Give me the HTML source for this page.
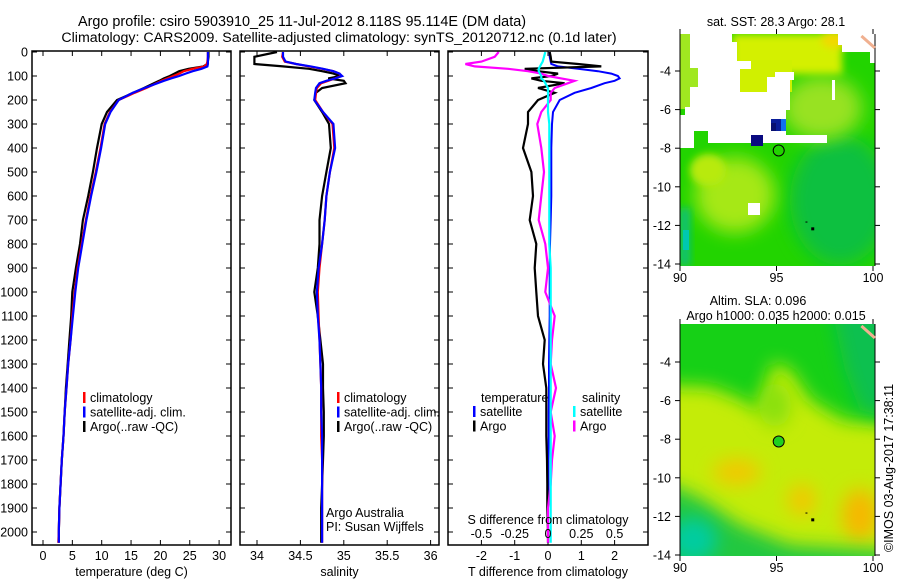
<!DOCTYPE html>
<html><head><meta charset="utf-8"><style>
html,body{margin:0;padding:0;background:#fff;}
svg{display:block;font-family:"Liberation Sans",sans-serif;}
</style></head><body>
<svg id="fig" width="900" height="580" viewBox="0 0 900 580" xmlns="http://www.w3.org/2000/svg">
<defs>
<filter id="blur8" x="-50%" y="-50%" width="200%" height="200%"><feGaussianBlur stdDeviation="9"/></filter>
<filter id="blur4" x="-50%" y="-50%" width="200%" height="200%"><feGaussianBlur stdDeviation="4"/></filter>
<clipPath id="clipTop"><rect x="680" y="34" width="195" height="232"/></clipPath>
<clipPath id="clipBot"><rect x="680" y="324" width="195" height="232"/></clipPath>
</defs>
<text x="302" y="26" font-size="14.4" text-anchor="middle">Argo profile: csiro 5903910_25 11-Jul-2012 8.118S 95.114E (DM data)</text>
<text x="339" y="42" font-size="14.2" text-anchor="middle">Climatology: CARS2009. Satellite-adjusted climatology: synTS_20120712.nc (0.1d later)</text>
<g id="plots"></g>
<g id="maps"></g>
</svg>
<script>
// ---- data ----
const depths = [0,20,40,50,60,70,80,90,100,110,120,130,150,170,200,250,300,400,500,600,700,800,900,1000,1100,1200,1300,1400,1500,1600,1700,1800,1900,2000,2045];
const tempClim = [28.1,28.1,28.0,27.9,27.5,25.5,24.0,23.2,22.2,21.2,20.2,19.3,17.6,15.6,12.9,11.4,10.5,9.8,9.0,8.1,7.3,6.6,5.9,5.4,5.0,4.7,4.3,4.0,3.7,3.5,3.2,3.0,2.8,2.7,2.6];
const tempSat  = [28.1,28.1,28.1,28.1,28.0,27.0,25.5,24.3,23.2,21.8,20.6,19.5,17.3,15.3,12.9,11.5,10.6,9.9,9.1,8.2,7.4,6.7,6.0,5.5,5.1,4.7,4.3,4.0,3.7,3.5,3.2,3.0,2.8,2.7,2.7];
const tempArgo = [28.2,28.2,28.1,28.0,27.3,24.8,23.2,22.4,21.6,20.6,19.8,18.9,17.2,15.4,12.6,10.9,10.0,9.2,8.5,7.7,6.8,6.3,5.6,5.0,4.8,4.5,4.2,3.9,3.7,3.5,3.2,3.0,2.8,2.7,2.7];
const salClim = [34.30,34.29,34.32,34.45,34.60,34.75,34.88,34.95,34.97,34.90,34.82,34.74,34.69,34.68,34.67,34.76,34.87,34.89,34.84,34.80,34.78,34.75,34.72,34.70,34.71,34.72,34.73,34.74,34.74,34.74,34.75,34.75,34.75,34.75,34.75];
const salSat  = [34.30,34.30,34.33,34.45,34.62,34.76,34.88,34.95,34.98,34.90,34.80,34.72,34.68,34.67,34.66,34.76,34.88,34.90,34.84,34.80,34.78,34.75,34.71,34.69,34.70,34.72,34.73,34.74,34.74,34.75,34.75,34.75,34.75,34.75,34.75];
const salArgo = [34.23,33.97,33.97,33.97,34.30,34.60,34.75,34.88,34.96,34.82,35.00,35.02,34.75,34.68,34.66,34.75,34.83,34.85,34.80,34.75,34.72,34.72,34.70,34.66,34.70,34.73,34.76,34.76,34.77,34.77,34.76,34.75,34.74,34.74,34.74];
const dTsat  = [0.05,0.05,0.08,0.1,0.3,0.9,1.5,1.9,2.1,2.15,2.0,1.7,1.3,0.8,0.35,0.15,0.12,0.1,0.1,0.1,0.08,0.06,0.05,0.05,0.05,0.04,0.03,0.03,0.02,0.02,0.01,0.01,0.0,0.0,0.0];
const dTargo = [0.05,0.08,0.1,0.9,1.6,-0.7,-0.3,0.3,0.1,-0.5,-0.2,0.5,-0.3,0.2,-0.3,-0.6,-0.6,-0.75,-0.5,-0.45,-0.55,-0.35,-0.4,-0.35,-0.3,-0.1,-0.15,-0.05,-0.05,-0.05,-0.03,-0.02,-0.02,0.0,0.0];
const dSsat  = [-0.02,-0.03,-0.04,-0.05,-0.06,-0.07,-0.07,-0.06,-0.05,-0.05,-0.03,-0.02,0.0,0.0,0.0,0.0,0.01,0.01,0.01,0.01,0.01,0.01,0.02,0.02,0.02,0.02,0.02,0.02,0.02,0.02,0.02,0.02,0.02,0.02,0.02];
const dSargo = [-0.37,-0.4,-0.5,-0.62,-0.55,-0.3,-0.15,-0.05,0.0,0.1,0.2,0.15,0.05,0.02,0.02,-0.05,-0.08,-0.05,-0.03,-0.05,-0.07,-0.02,0.0,-0.02,0.05,0.03,0.02,0.06,0.02,0.05,0.03,0.02,0.0,0.0,0.0];
const depthTicks = [0,100,200,300,400,500,600,700,800,900,1000,1100,1200,1300,1400,1500,1600,1700,1800,1900,2000];
const tempTicks = [0,5,10,15,20,25,30];
const salTicks = [34,34.5,35,35.5,36];
const salTickLabels = ["34","34.5","35","35.5","36"];
const dTTicks = [-2,-1,0,1,2];
const dSTicks = [-0.5,-0.25,0,0.25,0.5];
const dSTickLabels = ["-0.5","-0.25","0","0.25","0.5"];
const latTicks = [-4,-6,-8,-10,-12,-14];
const lonTicks = [90,95,100];

const NS='http://www.w3.org/2000/svg';
function mk(tag, attrs, parent){const e=document.createElementNS(NS,tag);for(const k in attrs)e.setAttribute(k,attrs[k]);parent.appendChild(e);return e;}
const plots=document.getElementById('plots');
const yD = d => 52 + d*0.24;
const PY0=51, PY1=545;

function panel(name,x0,x1,xf,ticks,labels,xlabel,yLabels){
  const g=mk('g',{},plots);
  
  
  depthTicks.forEach(d=>{
    mk('line',{x1:x0,x2:x0+5,y1:yD(d),y2:yD(d),stroke:'#000'},g);
    mk('line',{x1:x1-5,x2:x1,y1:yD(d),y2:yD(d),stroke:'#000'},g);
    if(yLabels){const t=mk('text',{x:28,y:yD(d)+4.5,'font-size':12.5,'text-anchor':'end'},g);t.textContent=d;
      }
  });
  ticks.forEach((v,i)=>{
    const x=xf(v);
    mk('line',{x1:x,x2:x,y1:PY1,y2:PY1-5,stroke:'#000'},g);
    mk('line',{x1:x,x2:x,y1:PY0,y2:PY0+5,stroke:'#000'},g);
    const t=mk('text',{x:x,y:560,'font-size':12.5,'text-anchor':'middle'},g);t.textContent=labels?labels[i]:v;
    
  });
  const t=mk('text',{x:(x0+x1)/2,y:576,'font-size':12.5,'text-anchor':'middle'},g);t.textContent=xlabel;
  
  return g;
}
function series(g,name,vals,xf,color,w){
  const pts=vals.map((v,i)=>xf(v).toFixed(1)+','+yD(depths[i]).toFixed(1)).join(' ');
  const p=mk('polyline',{points:pts,fill:'none',stroke:color,'stroke-width':w||2.2,'stroke-linejoin':'miter'},g);
  
  
}
function box(g,x0,x1){const r=mk('rect',{x:x0,y:PY0,width:x1-x0,height:PY1-PY0,fill:'none',stroke:'#000','stroke-width':1.5},g);
  }
function legend(g,x,y,items){
  items.forEach((it,i)=>{
    mk('rect',{x:x,y:y+i*14.5-10,width:2.5,height:11,fill:it[1]},g);
    const t=mk('text',{x:x+7,y:y+i*14.5,'font-size':12.5},g);t.textContent=it[0];
    
  });
}

const xT = v => 43 + v*5.87;
let g1=panel('temperature-panel',32,231,xT,tempTicks,null,'temperature (deg C)',true);
series(g1,'temp-argo-line',tempArgo,xT,'#000');
series(g1,'temp-climatology-line',tempClim,xT,'#f00');
series(g1,'temp-satellite-line',tempSat,xT,'#00f');
box(g1,32,231);
legend(g1,83,402,[['climatology','#f00'],['satellite-adj. clim.','#00f'],['Argo(..raw -QC)','#000']]);

const xS = v => 257 + (v-34)*86.8;
let g2=panel('salinity-panel',240,439,xS,salTicks,salTickLabels,'salinity',false);
series(g2,'sal-argo-line',salArgo,xS,'#000');
series(g2,'sal-climatology-line',salClim,xS,'#f00');
series(g2,'sal-satellite-line',salSat,xS,'#00f');
box(g2,240,439);
legend(g2,337,402,[['climatology','#f00'],['satellite-adj. clim.','#00f'],['Argo(..raw -QC)','#000']]);
[['Argo Australia',517],['PI: Susan Wijffels',531]].forEach(a=>{const t=mk('text',{x:326,y:a[1],'font-size':12.5},g2);t.textContent=a[0];
  });

const xdT = v => 548 + v*33.3;
const xdS = v => 548 + v*133.2;
let g3=panel('difference-panel',448,648,xdT,dTTicks,null,'T difference from climatology',false);
series(g3,'dT-satellite-line',dTsat,xdT,'#00f',2);
series(g3,'dT-argo-line',dTargo,xdT,'#000',2.2);
series(g3,'dS-argo-line',dSargo,xdS,'#f0f',2.2);
series(g3,'dS-satellite-line',dSsat,xdS,'#0ff',2.2);
box(g3,448,648);
dSTicks.forEach((v,i)=>{const t=mk('text',{x:xdS(v),y:538,'font-size':12.5,'text-anchor':'middle'},g3);t.textContent=dSTickLabels[i];
  });
{const t=mk('text',{x:548,y:524,'font-size':12.5,'text-anchor':'middle'},g3);t.textContent='S difference from climatology';
 }
{const t=mk('text',{x:481,y:402,'font-size':12.5},g3);t.textContent='temperature';}
{const t=mk('text',{x:582,y:402,'font-size':12.5},g3);t.textContent='salinity';}
legend(g3,473,416,[['satellite','#00f'],['Argo','#000']]);
legend(g3,573,416,[['satellite','#0ff'],['Argo','#f0f']]);

// ---- maps ----
const maps=document.getElementById('maps');
const mx = lon => 680 + (lon-90)*19.3;
const pts = a => a.map(p=>p[0]+','+p[1]).join(' ');
function mapAxes(g,top,y4){
  const my = lat => y4 - (lat+4)*19.3;
  const bot=top+232;
  latTicks.forEach(l=>{const y=my(l);
    mk('line',{x1:675,x2:680,y1:y,y2:y,stroke:'#000'},g);mk('line',{x1:875,x2:880,y1:y,y2:y,stroke:'#000'},g);
    const t=mk('text',{x:671,y:y+4.5,'font-size':12.5,'text-anchor':'end'},g);t.textContent=l;
    });
  lonTicks.forEach(l=>{const x=mx(l);
    mk('line',{x1:x,x2:x,y1:bot,y2:bot+5,stroke:'#000'},g);mk('line',{x1:x,x2:x,y1:top-5,y2:top,stroke:'#000'},g);
    const t=mk('text',{x:x,y:bot+16,'font-size':12.5,'text-anchor':'middle'},g);t.textContent=l;
    });
  mk('line',{x1:680,x2:680,y1:top,y2:bot,stroke:'#000'},g);mk('line',{x1:875,x2:875,y1:top,y2:bot,stroke:'#000'},g);
  mk('circle',{cx:mx(95.114),cy:my(-8.118),r:5.5,fill:'none',stroke:'#000','stroke-width':1},g);
  mk('rect',{x:mx(96.8),y:my(-12.1),width:3,height:3,fill:'#000'},g);
  mk('rect',{x:mx(96.5),y:my(-11.8),width:2,height:1,fill:'#000'},g);
  mk('path',{d:`M${mx(99.4)} ${top+2} L${mx(100.1)} ${top+14}`,stroke:'#f0b090','stroke-width':3,fill:'none'},g);
  return my;
}
// top map: SST
{const g=mk('g',{'clip-path':'url(#clipTop)'},maps);
 
 mk('rect',{x:680,y:34,width:195,height:232,fill:'#22d400'},g);
 mk('ellipse',{cx:840,cy:200,rx:50,ry:65,fill:'#10c040',filter:'url(#blur8)'},g);
 mk('ellipse',{cx:735,cy:195,rx:40,ry:38,fill:'#a6e818',filter:'url(#blur8)'},g);
 mk('ellipse',{cx:708,cy:170,rx:18,ry:16,fill:'#b8ea10',filter:'url(#blur4)'},g);
 mk('ellipse',{cx:822,cy:108,rx:40,ry:32,fill:'#98e220',filter:'url(#blur8)'},g);
 mk('rect',{x:732,y:34,width:110,height:40,fill:'#d4f000',filter:'url(#blur4)'},g);
 mk('rect',{x:740,y:60,width:52,height:32,fill:'#d0f000'},g);
 mk('ellipse',{cx:835,cy:40,rx:14,ry:8,fill:'#f2d800',filter:'url(#blur4)'},g);
 mk('rect',{x:680,y:34,width:18,height:75,fill:'#a0e820'},g);
 mk('rect',{x:680,y:208,width:10,height:58,fill:'#10c078',filter:'url(#blur4)'},g);
 mk('rect',{x:683,y:230,width:6,height:20,fill:'#00c8b0'},g);
 mk('polygon',{fill:'#fff',points:pts([[690,34],[732,34],[732,42],[737,42],[737,61],[751,61],[751,69],[740,69],[740,92],[767,92],[767,77],[775,77],[775,72],[794,72],[794,80],[790,80],[790,110],[786,110],[786,135],[827,135],[827,143],[708,143],[708,131],[694,131],[694,148],[680,148],[680,115],[685,115],[685,107],[690,107],[690,87],[698,87],[698,68],[690,68]])},g);
 mk('polygon',{fill:'#fff',points:pts([[838,34],[876,34],[876,63],[870,63],[870,52],[842,52],[842,45],[838,45]])},g);
 mk('rect',{x:832,y:80,width:3,height:20,fill:'#fff'},g);
 mk('rect',{x:748,y:203,width:12,height:12,fill:'#fff'},g);
 mk('rect',{x:771,y:119,width:10,height:12,fill:'#0a1e9a'},g);
 mk('rect',{x:781,y:119,width:5,height:12,fill:'#1070f0'},g);
 mk('rect',{x:771,y:123,width:5,height:8,fill:'#081070'},g);
 mk('rect',{x:751,y:135,width:12,height:11,fill:'#0a0a80'},g);
 const ga=mk('g',{},maps);
 mapAxes(ga,34,71);
 const t=mk('text',{x:776,y:26,'font-size':12.5,'text-anchor':'middle'},maps);t.textContent='sat. SST: 28.3 Argo: 28.1';
 }
// bottom map: SLA
{const g=mk('g',{'clip-path':'url(#clipBot)'},maps);
 
 const my = lat => 362 - (lat+4)*19.3;
 mk('rect',{x:680,y:324,width:195,height:232,fill:'#c4ec08'},g);
 mk('polygon',{fill:'#18d018',filter:'url(#blur8)',points:pts([[660,300],[900,300],[900,425],[843,420],[810,400],[790,370],[773,362],[760,412],[743,400],[710,387],[660,385]])},g);
 mk('polygon',{fill:'#10c050',filter:'url(#blur8)',points:pts([[830,300],[900,300],[900,420],[860,410],[845,370]])},g);
 mk('ellipse',{cx:775,cy:405,rx:16,ry:22,fill:'#88e010',filter:'url(#blur8)'},g);
 mk('ellipse',{cx:737,cy:472,rx:24,ry:13,fill:'#f2c800',filter:'url(#blur8)'},g);
 mk('ellipse',{cx:802,cy:500,rx:14,ry:16,fill:'#f2c800',filter:'url(#blur8)'},g);
 mk('ellipse',{cx:860,cy:515,rx:18,ry:26,fill:'#f6b800',filter:'url(#blur8)'},g);
 mk('polygon',{fill:'#20c840',filter:'url(#blur8)',points:pts([[660,480],[700,498],[740,525],[790,545],[900,552],[900,600],[660,600]])},g);
 mk('ellipse',{cx:693,cy:540,rx:24,ry:22,fill:'#00cca0',filter:'url(#blur8)'},g);
 mk('circle',{cx:mx(95.114),cy:my(-8.118),r:5,fill:'#20d020'},g);
 const ga=mk('g',{},maps);
 mapAxes(ga,324,362);
 let t=mk('text',{x:758,y:305,'font-size':12.5,'text-anchor':'middle'},maps);t.textContent='Altim. SLA: 0.096';
 
 t=mk('text',{x:776,y:320,'font-size':12.5,'text-anchor':'middle'},maps);t.textContent='Argo h1000: 0.035 h2000: 0.015';
 
 t=mk('text',{x:0,y:0,'font-size':12.5,'text-anchor':'middle',transform:'translate(893,468) rotate(-90)'},maps);t.textContent='©IMOS 03-Aug-2017 17:38:11';
 }
</script>
</body></html>
